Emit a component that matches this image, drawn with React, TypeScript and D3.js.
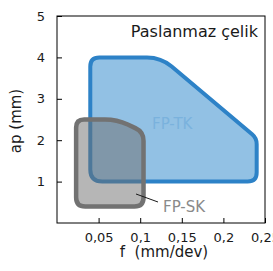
import { useRef, useEffect } from 'react';
import * as d3 from 'd3';

// outline vertices of the two application areas (f in mm/dev, ap in mm)
const fpTkF = [0.04, 0.04, 0.125, 0.24, 0.24];
const fpTkAp = [1.0, 4.0, 4.0, 2.05, 1.0];
const fpSkF = [0.023, 0.023, 0.072, 0.104, 0.104];
const fpSkAp = [0.4, 2.5, 2.5, 2.2, 0.4];

const xTicks = [0.05, 0.1, 0.15, 0.2, 0.25];
const xTickLabels = ['0,05', '0,1', '0,15', '0,2', '0,25'];
const yTicks = [1, 2, 3, 4, 5];

const W = 273;
const H = 271;
const FONT = '"DejaVu Sans", sans-serif';

type Pt = [number, number];

// polygon with rounded corners (quadratic bends at each vertex)
function roundedPath(pts: Pt[], radii: number[]) {
  const n = pts.length;
  const p = d3.path();
  pts.forEach((P, i) => {
    const prev = pts[(i - 1 + n) % n];
    const next = pts[(i + 1) % n];
    const d1 = Math.hypot(prev[0] - P[0], prev[1] - P[1]);
    const d2 = Math.hypot(next[0] - P[0], next[1] - P[1]);
    const r = Math.min(radii[i], d1 / 2, d2 / 2);
    const a: Pt = [P[0] + ((prev[0] - P[0]) / d1) * r, P[1] + ((prev[1] - P[1]) / d1) * r];
    const b: Pt = [P[0] + ((next[0] - P[0]) / d2) * r, P[1] + ((next[1] - P[1]) / d2) * r];
    if (i === 0) p.moveTo(a[0], a[1]);
    else p.lineTo(a[0], a[1]);
    p.quadraticCurveTo(P[0], P[1], b[0], b[1]);
  });
  p.closePath();
  return p.toString();
}

export default function App() {
  const svgRef = useRef<SVGSVGElement>(null);

  useEffect(() => {
    if (!svgRef.current) return;
    const svg = d3.select(svgRef.current);
    svg.selectAll('*').remove();

    const x = d3.scaleLinear().domain([0, 0.25]).range([57, 265]);
    const y = d3.scaleLinear().domain([0, 5]).range([223, 16]);

    // FP-TK area
    const tkPts: Pt[] = fpTkF.map((f, i) => [x(f), y(fpTkAp[i])]);
    svg.append('path')
      .attr('d', roundedPath(tkPts, [12, 9, 14, 6, 9]))
      .attr('fill', '#92c1e4')
      .attr('stroke', '#2d82c7')
      .attr('stroke-width', 4);

    // FP-SK area
    const skPts: Pt[] = fpSkF.map((f, i) => [x(f), y(fpSkAp[i])]);
    const skD = roundedPath(skPts, [9, 8, 12, 9, 9]);
    svg.append('path')
      .attr('d', skD)
      .attr('fill', 'rgb(110,110,110)')
      .attr('fill-opacity', 0.5);
    svg.append('path')
      .attr('d', skD)
      .attr('fill', 'none')
      .attr('stroke', '#727272')
      .attr('stroke-width', 4.5);

    // frame
    svg.append('rect')
      .attr('x', 57).attr('y', 16)
      .attr('width', 208).attr('height', 207)
      .attr('fill', 'none')
      .attr('stroke', '#000')
      .attr('stroke-width', 1);

    // axes, inward ticks
    const xAxis = d3.axisBottom(x)
      .tickValues(xTicks)
      .tickFormat((_, i) => xTickLabels[i])
      .tickSize(-5)
      .tickSizeOuter(0)
      .tickPadding(10);
    const gx = svg.append('g').attr('transform', 'translate(0,223)').call(xAxis);

    const yAxis = d3.axisLeft(y)
      .tickValues(yTicks)
      .tickFormat(d3.format('d'))
      .tickSize(-5)
      .tickSizeOuter(0)
      .tickPadding(12);
    const gy = svg.append('g').attr('transform', 'translate(57,0)').call(yAxis);

    [gx, gy].forEach(g => {
      g.attr('font-family', FONT).attr('font-size', 13);
      g.select('.domain').remove();
      g.selectAll('text').attr('fill', '#1a1a1a');
    });

    // titles
    svg.append('text')
      .attr('x', 258).attr('y', 37)
      .attr('text-anchor', 'end')
      .attr('font-family', FONT).attr('font-size', 16)
      .attr('fill', '#1a1a1a')
      .text('Paslanmaz çelik');

    svg.append('text')
      .attr('x', 164).attr('y', 257)
      .attr('text-anchor', 'middle')
      .attr('font-family', FONT).attr('font-size', 15)
      .attr('fill', '#1a1a1a')
      .text('f\u00a0 (mm/dev)');

    svg.append('text')
      .attr('transform', 'translate(21,121) rotate(-90)')
      .attr('text-anchor', 'middle')
      .attr('font-family', FONT).attr('font-size', 15)
      .attr('fill', '#1a1a1a')
      .text('ap (mm)');

    // area labels
    svg.append('text')
      .attr('x', 152).attr('y', 129)
      .attr('font-family', FONT).attr('font-size', 15)
      .attr('fill', '#7ab2dd')
      .text('FP-TK');

    svg.append('line')
      .attr('x1', 136).attr('y1', 194)
      .attr('x2', 158).attr('y2', 202)
      .attr('stroke', '#1a1a1a')
      .attr('stroke-width', 1);

    svg.append('text')
      .attr('x', 163).attr('y', 212)
      .attr('font-family', FONT).attr('font-size', 15)
      .attr('fill', '#8a8a8a')
      .text('FP-SK');
  }, []);

  return (
    <svg
      ref={svgRef}
      width={W}
      height={H}
      style={{ position: 'absolute', left: 0, top: 0, background: '#fff' }}
    />
  );
}
